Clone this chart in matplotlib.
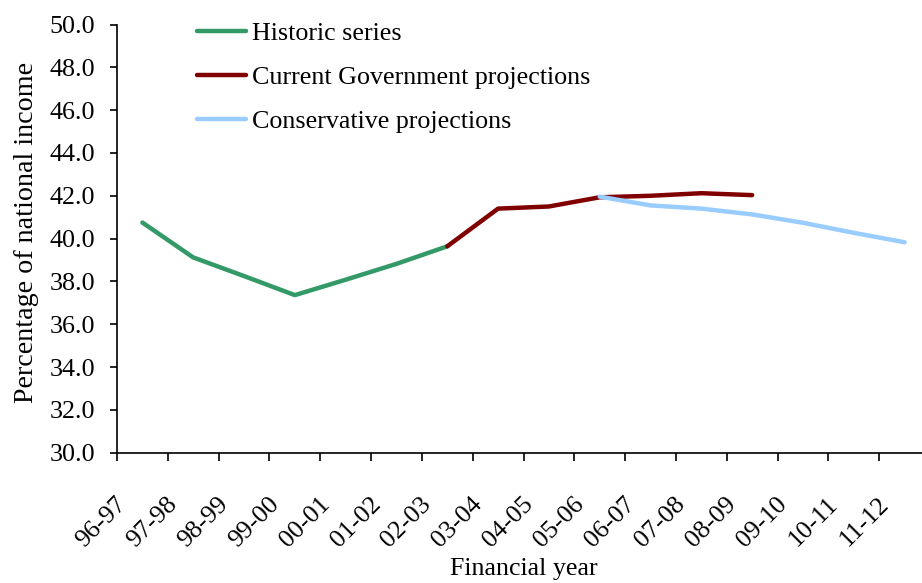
import numpy as np
import matplotlib
matplotlib.use("Agg")
import matplotlib.pyplot as plt
import matplotlib.transforms as mtransforms

years = ["96-97", "97-98", "98-99", "99-00", "00-01", "01-02", "02-03", "03-04",
         "04-05", "05-06", "06-07", "07-08", "08-09", "09-10", "10-11", "11-12"]

# historic: 96-97 .. 02-03
historic = [40.75, 39.12, 38.25, 37.36, 38.08, 38.82, 39.64]
# current government: 02-03 .. 08-09
government = [39.64, 41.40, 41.50, 41.93, 42.00, 42.12, 42.03]
# conservative: 05-06 .. 11-12
conservative = [41.96, 41.55, 41.40, 41.13, 40.74, 40.27, 39.83]

plt.rcParams['font.family'] = ['Liberation Serif', 'DejaVu Serif']
fs = 18.7

fig = plt.figure(figsize=(9.22, 5.83), dpi=100)
# the category axis runs a little past the right edge of the picture
ax = fig.add_axes([117/922, 1 - 452.7/583, 813/922, (452.7 - 24.5)/583])

x = np.arange(len(years))
ax.plot(x[0:7], historic, color='#339966', lw=3.2, label='Historic series', solid_capstyle='round')
ax.plot(x[6:13], government, color='#800000', lw=3.2, label='Current Government projections', solid_capstyle='round')
ax.plot(x[9:16], conservative, color='#99CCFF', lw=3.2, label='Conservative projections', solid_capstyle='round')

ax.set_xlim(-0.5, 15.5)
ax.set_ylim(30, 50)
ax.set_yticks(np.arange(30, 50.1, 2))
ax.set_yticklabels(["%.1f" % v for v in np.arange(30, 50.1, 2)], fontsize=fs)

ax.set_xticks(x)
ax.set_xticklabels(years, fontsize=fs, rotation=45, ha='right', rotation_mode='anchor')
ax.set_xticks(np.arange(-0.5, 15.6, 1), minor=True)
ax.tick_params(axis='x', which='major', length=0, pad=29)
ax.tick_params(axis='x', which='minor', length=6, width=1.2, direction='out')
ax.tick_params(axis='y', length=5, width=1.2, direction='out', pad=10.5)
offset = mtransforms.ScaledTranslation(-27/100, 0, fig.dpi_scale_trans)
for lbl in ax.get_xticklabels():
    lbl.set_transform(lbl.get_transform() + offset)

for s in ['top', 'right']:
    ax.spines[s].set_visible(False)
for s in ['left', 'bottom']:
    ax.spines[s].set_linewidth(1.2)

ax.set_ylabel("Percentage of national income", fontsize=20.2)
ax.yaxis.set_label_coords(-78/813, (452.7 - 232.5)/428.2)
ax.set_xlabel("Financial year", fontsize=fs, labelpad=5)

leg = fig.legend(loc='upper left', bbox_to_anchor=(197/922, 1 - 22/583), frameon=False,
                 fontsize=fs, handlelength=1.9, handletextpad=0.22, labelspacing=0.8,
                 borderpad=0, borderaxespad=0)

fig.savefig("out.png", dpi=100)
